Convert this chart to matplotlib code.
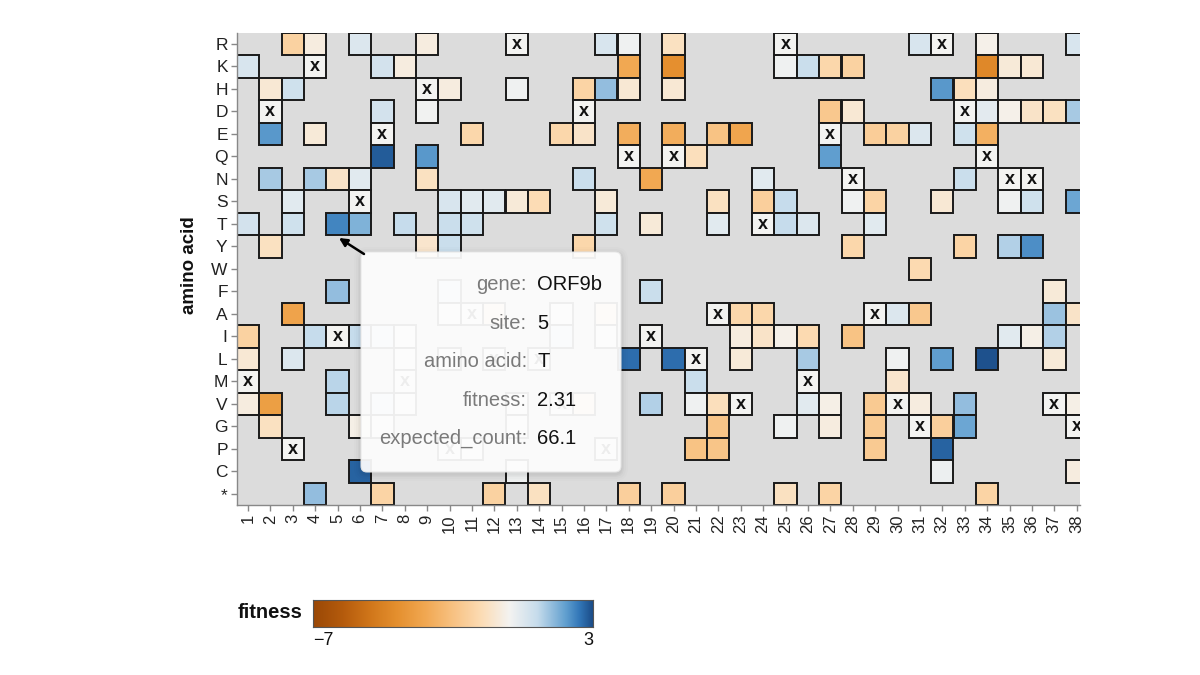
import numpy as np
import matplotlib
matplotlib.use("Agg")
import matplotlib.pyplot as plt
from matplotlib.colors import LinearSegmentedColormap, Normalize
from matplotlib.patches import Rectangle, FancyBboxPatch

plt.rcParams['font.family'] = ['Liberation Sans', 'DejaVu Sans']

# ---------------- data ----------------
amino_acids = list("RKHDEQNSTYWFAILMVGPC*")
sites = list(range(1, 39))
wildtype = list("MDPKISEMHPALRLVDPQIQLAVTRMENAVGRDQNNVG")

cell_aa = (
    ["R"] * 10 + ["K"] * 12 + ["H"] * 11 + ["D"] * 9 + ["E"] * 14 + ["Q"] * 4 +
    ["N"] * 9 + ["S"] * 16 + ["T"] * 13 + ["Y"] * 8 + ["W"] * 1 + ["F"] * 4 +
    ["A"] * 11 + ["I"] * 15 + ["L"] * 12 + ["M"] * 3 + ["V"] * 16 + ["G"] * 10 +
    ["P"] * 5 + ["C"] * 4 + ["*"] * 9
)
cell_site = [
    3, 4, 6, 9, 17, 18, 20, 31, 34, 38,                       # R
    1, 7, 8, 18, 20, 25, 26, 27, 28, 34, 35, 36,              # K
    2, 3, 10, 13, 16, 17, 18, 20, 32, 33, 34,                 # H
    7, 9, 27, 28, 34, 35, 36, 37, 38,                         # D
    2, 4, 11, 15, 16, 18, 20, 22, 23, 29, 30, 31, 33, 34,     # E
    7, 9, 21, 27,                                             # Q
    2, 4, 5, 6, 9, 16, 19, 24, 33,                            # N
    3, 10, 11, 12, 13, 14, 17, 22, 24, 25, 28, 29, 32, 35, 36, 38,  # S
    1, 3, 5, 6, 8, 10, 11, 17, 19, 22, 25, 26, 29,            # T
    2, 9, 10, 16, 28, 33, 35, 36,                             # Y
    31,                                                       # W
    5, 10, 19, 37,                                            # F
    3, 10, 12, 15, 17, 23, 24, 30, 31, 37, 38,                # A
    1, 4, 6, 7, 8, 15, 17, 23, 24, 25, 26, 28, 35, 36, 37,    # I
    1, 3, 8, 10, 18, 20, 23, 26, 30, 32, 34, 37,              # L
    5, 21, 30,                                                # M
    1, 2, 5, 7, 8, 13, 16, 19, 21, 22, 26, 27, 29, 31, 33, 38,  # V
    2, 6, 7, 13, 22, 25, 27, 29, 32, 33,                      # G
    11, 21, 22, 29, 32,                                       # P
    6, 13, 32, 38,                                            # C
    4, 7, 12, 14, 18, 20, 25, 27, 34,                         # *
]
cell_fitness = [
    -1.4, -0.3, 0.5, -0.3, 0.6, 0.1, -0.8, 0.6, -0.15, 0.6,
    0.6, 0.7, -0.3, -3.0, -4.0, 0.1, 0.9, -1.2, -1.4, -4.3, -0.4, -0.5,
    -0.5, 0.8, -0.3, 0.1, -1.3, 1.5, -0.5, -0.5, 2.1, -0.9, -0.3,
    0.7, 0.05, -1.8, -0.5, 0.35, -0.15, -0.7, -0.8, 1.3,
    2.1, -0.4, -1.2, -1.2, -0.7, -2.8, -2.8, -2.0, -3.1, -1.6, -1.4, 0.5, 0.8, -2.7,
    2.8, 2.1, -0.9, 2.0,
    1.3, 1.3, -0.7, 0.4, -0.8, 0.9, -3.0, 0.4, 0.9,
    0.4, 0.6, 0.4, 0.4, -0.4, -1.0, -0.4, -0.8, -1.5, 1.0, 0.1, -1.3, -0.5, 0.1, 0.8, 1.9,
    0.7, 0.8, 2.31, 1.7, 1.0, 0.9, 0.8, 0.8, -0.4, 0.4, 1.0, 0.5, 0.4,
    -0.8, -0.6, 0.9, -1.2, -1.2, -1.3, 1.2, 2.2,
    -1.1,
    1.5, 0.6, 0.9, -0.4,
    -3.2, 0.1, -0.6, 0.1, -0.7, -1.2, -1.2, 0.5, -1.8, 1.4, -0.7,
    -1.4, 1.0, 1.0, 0.6, 0.1, 0.5, 0.05, -0.3, -0.7, -0.15, -1.1, -2.0, 0.4, -0.2, 1.2,
    -0.5, 0.5, 0.05, 0.05, 2.6, 2.6, -0.4, 1.3, 0.1, 2.0, 2.9, -0.4,
    1.1, 0.9, -0.6,
    -0.3, -3.4, 1.1, 0.7, 0.05, 0.05, -0.6, 1.2, 0.1, -0.9, 0.4, -0.2, -1.7, -0.3, 1.5, -0.2,
    -0.8, -0.2, 0.05, 0.05, -1.9, 0.1, -0.3, -1.7, -1.5, 1.9,
    0.05, -2.0, -1.9, -1.7, 2.7,
    2.7, 0.1, 0.15, -0.3,
    1.5, -1.3, -1.4, -0.8, -1.5, -1.5, -0.8, -1.3, -1.3,
]
wildtype_fitness = 0.0

tooltip_labels = ["gene:", "site:", "amino acid:", "fitness:", "expected_count:"]
tooltip_values = ["ORF9b", "5", "T", "2.31", "66.1"]

fit_min, fit_max = -7, 3

# ---------------- colours ----------------
cmap = LinearSegmentedColormap.from_list("fit", [
    (0.00, "#9a4806"), (0.10, "#b35a0c"), (0.20, "#d0761a"), (0.30, "#e5902f"),
    (0.40, "#f1a852"), (0.50, "#f8c283"), (0.60, "#fcdcb5"), (0.70, "#f4f3f1"),
    (0.80, "#c6dcec"), (0.90, "#62a0d0"), (0.95, "#3277b8"), (1.00, "#1a4a85")])
norm = Normalize(fit_min, fit_max)

# ---------------- figure ----------------
W, H = 1200, 675
fig = plt.figure(figsize=(12, 6.75), dpi=100)
ax_left, ax_right, ax_top, ax_bot = 236.7, 1080, 32.7, 505.2
ax = fig.add_axes([ax_left / W, 1 - ax_bot / H, (ax_right - ax_left) / W, (ax_bot - ax_top) / H])
col_w = 22.4
ax.set_xlim(0.5, 0.5 + (ax_right - ax_left) / col_w)
ax.set_ylim(len(amino_acids) - 0.5, -0.5)
ax.set_facecolor("#dcdcdc")

row_of = {a: i for i, a in enumerate(amino_acids)}
for s, a, f in zip(cell_site, cell_aa, cell_fitness):
    r = row_of[a]
    ax.add_patch(Rectangle((s - 0.5, r - 0.5), 1, 1, facecolor=cmap(norm(f)),
                           edgecolor="#1a1a1a", linewidth=1.4, zorder=2))
for s, a in zip(sites, wildtype):
    r = row_of[a]
    ax.add_patch(Rectangle((s - 0.5, r - 0.5), 1, 1, facecolor=cmap(norm(wildtype_fitness)),
                           edgecolor="#1a1a1a", linewidth=1.4, zorder=2))
    ax.text(s, r + 0.21, "x", ha="center", va="baseline", fontsize=13,
            fontweight="bold", color="#111111", zorder=3, clip_on=True)

ax.set_yticks(range(len(amino_acids)))
ax.set_yticklabels(amino_acids, fontsize=12.5, color="#222222")
ax.set_xticks(sites)
ax.set_xticklabels([str(s) for s in sites], rotation=90, fontsize=12, color="#222222")
ax.tick_params(axis="both", length=4.5, width=1, color="#888888", pad=2)
for sp in ["top", "right"]:
    ax.spines[sp].set_visible(False)
for sp in ["left", "bottom"]:
    ax.spines[sp].set_color("#888888")
    ax.spines[sp].set_linewidth(1)

fig.text(190 / W, 1 - 265 / H, "amino acid", rotation=90, ha="center", va="center",
         fontsize=13.5, fontweight="bold", color="#111111")

# ---------------- colour legend ----------------
cax = fig.add_axes([313 / W, 1 - 627 / H, 280 / W, 27 / H])
grad = np.linspace(fit_min, fit_max, 512).reshape(1, -1)
cax.imshow(grad, cmap=cmap, norm=norm, aspect="auto", extent=(fit_min, fit_max, 0, 1))
cax.set_xticks([])
cax.set_yticks([])
for sp in cax.spines.values():
    sp.set_color("#555555")
    sp.set_linewidth(0.8)
cax.text(0, -0.2, "\u2212" + str(abs(fit_min)), transform=cax.transAxes, ha="left", va="top",
         fontsize=13, color="#111111")
cax.text(1, -0.2, str(fit_max), transform=cax.transAxes, ha="right", va="top",
         fontsize=13, color="#111111")
fig.text(302 / W, 1 - 613 / H, "fitness", ha="right", va="center", fontsize=14.5,
         fontweight="bold", color="#111111")

# ---------------- tooltip overlay ----------------
ov = fig.add_axes([0, 0, 1, 1], zorder=10)
ov.set_xlim(0, W)
ov.set_ylim(H, 0)
ov.axis("off")
ov.patch.set_alpha(0)

tx, ty, tw, th = 361, 252, 260, 220
for pad, al in [(7, 0.012), (5, 0.016), (3, 0.022), (1.5, 0.03)]:
    ov.add_patch(FancyBboxPatch((tx - pad, ty - pad + 2), tw + 2 * pad, th + 2 * pad,
                                boxstyle="round,pad=0,rounding_size=%g" % (6 + pad),
                                facecolor="black", edgecolor="none", alpha=al))
ov.add_patch(FancyBboxPatch((tx, ty), tw, th, boxstyle="round,pad=0,rounding_size=6",
                            facecolor="white", edgecolor="#e6e6e6", linewidth=0.8, alpha=0.93))
row_y = [285, 323.5, 361.5, 400, 438]
for lab, val, yy in zip(tooltip_labels, tooltip_values, row_y):
    ov.text(527, yy, lab, ha="right", va="center", fontsize=14.5, color="#7a7a7a")
    ov.text(537.5, yy, val, ha="left", va="center", fontsize=14.5, color="#111111")

ov.annotate("", xy=(339, 238), xytext=(364, 254),
            arrowprops=dict(arrowstyle="-|>", color="black", lw=1.8, mutation_scale=12,
                            shrinkA=0, shrinkB=0))

fig.savefig("out.png", dpi=100)
